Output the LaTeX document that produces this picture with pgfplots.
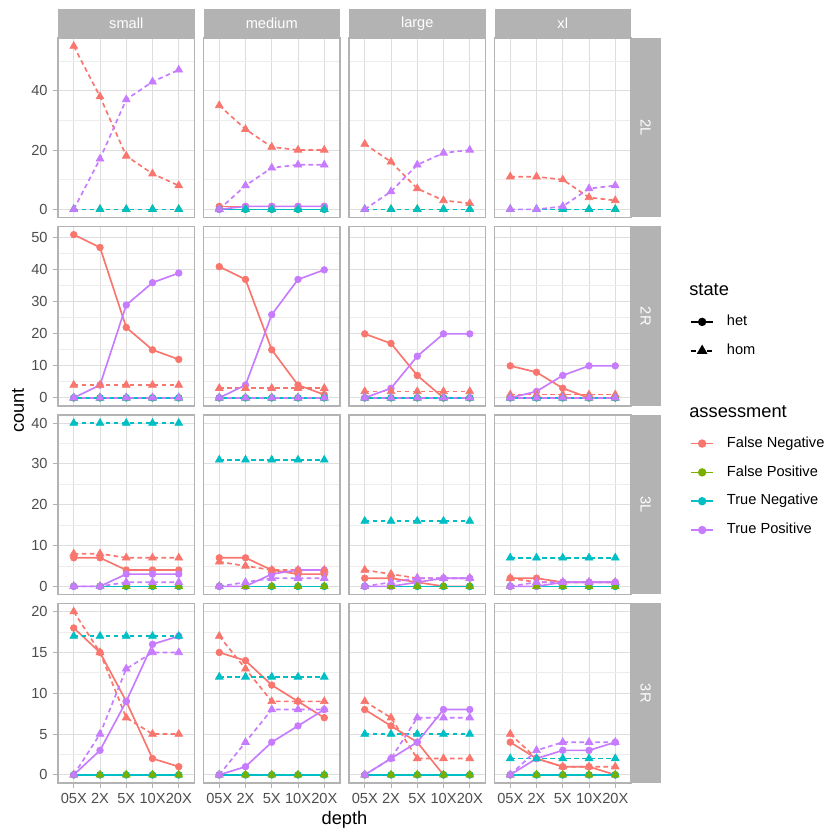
\documentclass[border=0pt]{standalone}
\usepackage{pgfplots}
\pgfplotsset{compat=1.18}
\usepackage{pgfplotstable}
\usepackage{fontspec}
\setmainfont{Liberation Sans}

\definecolor{cFN}{HTML}{F8766D}
\definecolor{cFP}{HTML}{7CAE00}
\definecolor{cTN}{HTML}{00BFC4}
\definecolor{cTP}{HTML}{C77CFF}
\definecolor{g70}{HTML}{B3B3B3}
\definecolor{g87}{HTML}{DEDEDE}
\definecolor{g93}{HTML}{EDEDED}
\definecolor{g30}{HTML}{4D4D4D}

% ---------------- data: row 2L ----------------
\pgfplotstableread{
x FNhet FNhom FPhet FPhom TNhet TNhom TPhet TPhom
1 nan 55 nan 0 nan 0 nan 0
2 nan 38 nan 0 nan 0 nan 17
3 nan 18 nan 0 nan 0 nan 37
4 nan 12 nan 0 nan 0 nan 43
5 nan 8  nan 0 nan 0 nan 47
}\taS
\pgfplotstableread{
x FNhet FNhom FPhet FPhom TNhet TNhom TPhet TPhom
1 1 35 0 0 0 0 0 0
2 1 27 0 0 0 0 1 8
3 1 21 0 0 0 0 1 14
4 1 20 0 0 0 0 1 15
5 1 20 0 0 0 0 1 15
}\taM
\pgfplotstableread{
x FNhet FNhom FPhet FPhom TNhet TNhom TPhet TPhom
1 nan 22 nan 0 nan 0 nan 0
2 nan 16 nan 0 nan 0 nan 6
3 nan 7  nan 0 nan 0 nan 15
4 nan 3  nan 0 nan 0 nan 19
5 nan 2  nan 0 nan 0 nan 20
}\taL
\pgfplotstableread{
x FNhet FNhom FPhet FPhom TNhet TNhom TPhet TPhom
1 nan 11 nan 0 nan 0 nan 0
2 nan 11 nan 0 nan 0 nan 0
3 nan 10 nan 0 nan 0 nan 1
4 nan 4  nan 0 nan 0 nan 7
5 nan 3  nan 0 nan 0 nan 8
}\taX
% ---------------- data: row 2R ----------------
\pgfplotstableread{
x FNhet FNhom FPhet FPhom TNhet TNhom TPhet TPhom
1 51 4 0 0 0 0 0 0
2 47 4 0 0 0 0 4 0
3 22 4 0 0 0 0 29 0
4 15 4 0 0 0 0 36 0
5 12 4 0 0 0 0 39 0
}\tbS
\pgfplotstableread{
x FNhet FNhom FPhet FPhom TNhet TNhom TPhet TPhom
1 41 3 0 0 0 0 0 0
2 37 3 0 0 0 0 4 0
3 15 3 0 0 0 0 26 0
4 4  3 0 0 0 0 37 0
5 1  3 0 0 0 0 40 0
}\tbM
\pgfplotstableread{
x FNhet FNhom FPhet FPhom TNhet TNhom TPhet TPhom
1 20 2 0 0 0 0 0 0
2 17 2 0 0 0 0 3 0
3 7  2 0 0 0 0 13 0
4 0  2 0 0 0 0 20 0
5 0  2 0 0 0 0 20 0
}\tbL
\pgfplotstableread{
x FNhet FNhom FPhet FPhom TNhet TNhom TPhet TPhom
1 10 1 0 0 0 0 0 0
2 8  1 0 0 0 0 2 0
3 3  1 0 0 0 0 7 0
4 0  1 0 0 0 0 10 0
5 0  1 0 0 0 0 10 0
}\tbX
% ---------------- data: row 3L ----------------
\pgfplotstableread{
x FNhet FNhom FPhet FPhom TNhet TNhom TPhet TPhom
1 7 8 0 0 0 40 0 0
2 7 8 0 0 0 40 0 0
3 4 7 0 0 0 40 3 1
4 4 7 0 0 0 40 3 1
5 4 7 0 0 0 40 3 1
}\tcS
\pgfplotstableread{
x FNhet FNhom FPhet FPhom TNhet TNhom TPhet TPhom
1 7 6 0 0 0 31 0 0
2 7 5 0 0 0 31 0 1
3 4 4 0 0 0 31 3 2
4 3 4 0 0 0 31 4 2
5 3 4 0 0 0 31 4 2
}\tcM
\pgfplotstableread{
x FNhet FNhom FPhet FPhom TNhet TNhom TPhet TPhom
1 2 4 0 0 0 16 0 0
2 2 3 0 0 0 16 0 1
3 1 2 0 0 0 16 1 2
4 0 2 0 0 0 16 2 2
5 0 2 0 0 0 16 2 2
}\tcL
\pgfplotstableread{
x FNhet FNhom FPhet FPhom TNhet TNhom TPhet TPhom
1 2 2 0 0 0 7 0 0
2 2 1 0 0 0 7 0 1
3 1 1 0 0 0 7 1 1
4 1 1 0 0 0 7 1 1
5 1 1 0 0 0 7 1 1
}\tcX
% ---------------- data: row 3R ----------------
\pgfplotstableread{
x FNhet FNhom FPhet FPhom TNhet TNhom TPhet TPhom
1 18 20 0 0 0 17 0 0
2 15 15 0 0 0 17 3 5
3 9  7  0 0 0 17 9 13
4 2  5  0 0 0 17 16 15
5 1  5  0 0 0 17 17 15
}\tdS
\pgfplotstableread{
x FNhet FNhom FPhet FPhom TNhet TNhom TPhet TPhom
1 15 17 0 0 0 12 0 0
2 14 13 0 0 0 12 1 4
3 11 9  0 0 0 12 4 8
4 9  9  0 0 0 12 6 8
5 7  9  0 0 0 12 8 8
}\tdM
\pgfplotstableread{
x FNhet FNhom FPhet FPhom TNhet TNhom TPhet TPhom
1 8 9 0 0 0 5 0 0
2 6 7 0 0 0 5 2 2
3 4 2 0 0 0 5 4 7
4 0 2 0 0 0 5 8 7
5 0 2 0 0 0 5 8 7
}\tdL
\pgfplotstableread{
x FNhet FNhom FPhet FPhom TNhet TNhom TPhet TPhom
1 4 5 0 0 0 2 0 0
2 2 2 0 0 0 2 2 3
3 1 1 0 0 0 2 3 4
4 1 1 0 0 0 2 3 4
5 0 1 0 0 0 2 4 4
}\tdX

\pgfplotsset{
  ln/.style={no marks, line width=1bp, solid},
  dsh/.style={dash pattern=on 2.8bp off 2bp},
  mk/.style={only marks, mark size=2bp, mark options={solid}},
  tri/.style={only marks, mark=triangle*, mark size=2.7bp, mark options={solid}},
  panel/.style={
    scale only axis, width=81.9bp, height=107.7bp,
    anchor=south west,
    xmin=0.4, xmax=5.6, xtick={1,2,3,4,5},
    xticklabels={05X,2X,5X,10X,20X},
    xmajorgrids, ymajorgrids, yminorgrids,
    major grid style={g87, line width=0.55bp},
    minor grid style={g93, line width=0.45bp},
    axis line style={g70, line width=0.8bp},
    tick align=outside, major tick length=2.75bp, minor tick length=0pt,
    tick style={g70, line width=0.55bp},
    xtick pos=bottom, ytick pos=left,
    ticklabel style={font=\fontsize{8.8}{10}\selectfont, text=g30},
    /pgf/number format/assume math mode=true,
  },
  rowa/.style={ymin=-2.75, ymax=57.75, ytick={0,20,40}, minor ytick={10,30,50}},
  rowb/.style={ymin=-2.55, ymax=53.55, ytick={0,10,20,30,40,50}, minor ytick={5,15,25,35,45}},
  rowc/.style={ymin=-2, ymax=42, ytick={0,10,20,30,40}, minor ytick={5,15,25,35}},
  rowd/.style={ymin=-1, ymax=21, ytick={0,5,10,15,20}, minor ytick={2.5,7.5,12.5,17.5}},
  innerx/.style={xticklabels={}, xtick style={draw=none}},
  innery/.style={yticklabels={}, ytick style={draw=none}},
}

\newcommand{\series}[1]{%
  \addplot[cFN, ln] table[x=x, y=FNhet] {#1};
  \addplot[cFN, ln, dsh] table[x=x, y=FNhom] {#1};
  \addplot[cFP, ln] table[x=x, y=FPhet] {#1};
  \addplot[cFP, ln, dsh] table[x=x, y=FPhom] {#1};
  \addplot[cTN, ln] table[x=x, y=TNhet] {#1};
  \addplot[cTN, ln, dsh] table[x=x, y=TNhom] {#1};
  \addplot[cTP, ln] table[x=x, y=TPhet] {#1};
  \addplot[cTP, ln, dsh] table[x=x, y=TPhom] {#1};
  \addplot[cFN, mk, mark=*] table[x=x, y=FNhet] {#1};
  \addplot[cFP, mk, mark=*] table[x=x, y=FPhet] {#1};
  \addplot[cTN, mk, mark=*] table[x=x, y=TNhet] {#1};
  \addplot[cTP, mk, mark=*] table[x=x, y=TPhet] {#1};
  \addplot[cFN, tri] table[x=x, y=FNhom] {#1};
  \addplot[cFP, tri] table[x=x, y=FPhom] {#1};
  \addplot[cTN, tri] table[x=x, y=TNhom] {#1};
  \addplot[cTP, tri] table[x=x, y=TPhom] {#1};
}

\newcommand{\panel}[5]{%
  \begin{axis}[panel, name=#1, at={(#2bp,#3bp)}, #4]
    \series{#5}
  \end{axis}}

\begin{document}
\begin{tikzpicture}
\path[use as bounding box] (0bp,0bp) rectangle (504bp,504bp);

% row 2L
\panel{p11}{34.8}{373.5}{rowa, innerx}{\taS}
\panel{p12}{122.1}{373.5}{rowa, innerx, innery}{\taM}
\panel{p13}{209.4}{373.5}{rowa, innerx, innery}{\taL}
\panel{p14}{296.7}{373.5}{rowa, innerx, innery}{\taX}
% row 2R
\panel{p21}{34.8}{260.4}{rowb, innerx}{\tbS}
\panel{p22}{122.1}{260.4}{rowb, innerx, innery}{\tbM}
\panel{p23}{209.4}{260.4}{rowb, innerx, innery}{\tbL}
\panel{p24}{296.7}{260.4}{rowb, innerx, innery}{\tbX}
% row 3L
\panel{p31}{34.8}{147.3}{rowc, innerx}{\tcS}
\panel{p32}{122.1}{147.3}{rowc, innerx, innery}{\tcM}
\panel{p33}{209.4}{147.3}{rowc, innerx, innery}{\tcL}
\panel{p34}{296.7}{147.3}{rowc, innerx, innery}{\tcX}
% row 3R
\panel{p41}{34.8}{34.2}{rowd}{\tdS}
\panel{p42}{122.1}{34.2}{rowd, innery}{\tdM}
\panel{p43}{209.4}{34.2}{rowd, innery}{\tdL}
\panel{p44}{296.7}{34.2}{rowd, innery}{\tdX}

% strips
\foreach \n/\t in {p11/small, p12/medium, p13/large, p14/xl} {
  \fill[g70] (\n.north west) rectangle ([yshift=17.4bp]\n.north east);
  \node[text=white, font=\fontsize{8.8}{10}\selectfont] at ([yshift=8.7bp]\n.north) {\t};
}
\foreach \n/\t in {p14/2L, p24/2R, p34/3L, p44/3R} {
  \fill[g70] (\n.south east) rectangle ([xshift=17.7bp]\n.north east);
  \node[text=white, rotate=-90, font=\fontsize{8.8}{10}\selectfont] at ([xshift=8.85bp]\n.east) {\t};
}

% axis titles
\node[rotate=90, font=\fontsize{11}{13}\selectfont] at (10.8bp,257.7bp) {count};
\node[font=\fontsize{11}{13}\selectfont] at (206.7bp,12bp) {depth};

% legend titles
\node[anchor=west, inner sep=0pt, font=\fontsize{11}{13}\selectfont] at (413.4bp,330bp) {state};
\node[anchor=west, inner sep=0pt, font=\fontsize{11}{13}\selectfont] at (413.4bp,257bp) {assessment};

% legend: state
\begin{axis}[hide axis, scale only axis, width=504bp, height=504bp,
  at={(0bp,0bp)}, anchor=south west, xmin=0, xmax=1, ymin=0, ymax=1,
  legend cell align=left,
  legend image code/.code={\draw[mark repeat=2, mark phase=2, #1] plot coordinates {(0bp,0bp) (6.6bp,0bp) (13.2bp,0bp)};},
  legend style={at={(axis description cs:0.8214,0.6255)}, anchor=north west,
    draw=none, fill=none, inner sep=0pt, row sep=8.9bp, column sep=7.8bp,
    nodes={font=\fontsize{8.8}{10}\selectfont, inner sep=0pt, text height=6.4bp, text depth=2bp}}]
  \addlegendimage{black, solid, line width=1bp, mark=*, mark size=2bp, mark options={solid}}
  \addlegendentry{het}
  \addlegendimage{black, line width=1bp, dash pattern=on 2.8bp off 2bp, mark=triangle*, mark size=2.7bp, mark options={solid}}
  \addlegendentry{hom}
\end{axis}

% legend: assessment
\begin{axis}[hide axis, scale only axis, width=504bp, height=504bp,
  at={(0bp,0bp)}, anchor=south west, xmin=0, xmax=1, ymin=0, ymax=1,
  legend cell align=left,
  legend image code/.code={\draw[mark repeat=2, mark phase=2, #1] plot coordinates {(0bp,0bp) (6.6bp,0bp) (13.2bp,0bp)};},
  legend style={at={(axis description cs:0.8214,0.4807)}, anchor=north west,
    draw=none, fill=none, inner sep=0pt, row sep=8.9bp, column sep=7.8bp,
    nodes={font=\fontsize{8.8}{10}\selectfont, inner sep=0pt, text height=6.4bp, text depth=2bp}}]
  \addlegendimage{cFN, solid, line width=1bp, mark=*, mark size=2bp}
  \addlegendentry{False Negative}
  \addlegendimage{cFP, solid, line width=1bp, mark=*, mark size=2bp}
  \addlegendentry{False Positive}
  \addlegendimage{cTN, solid, line width=1bp, mark=*, mark size=2bp}
  \addlegendentry{True Negative}
  \addlegendimage{cTP, solid, line width=1bp, mark=*, mark size=2bp}
  \addlegendentry{True Positive}
\end{axis}
\end{tikzpicture}
\end{document}
